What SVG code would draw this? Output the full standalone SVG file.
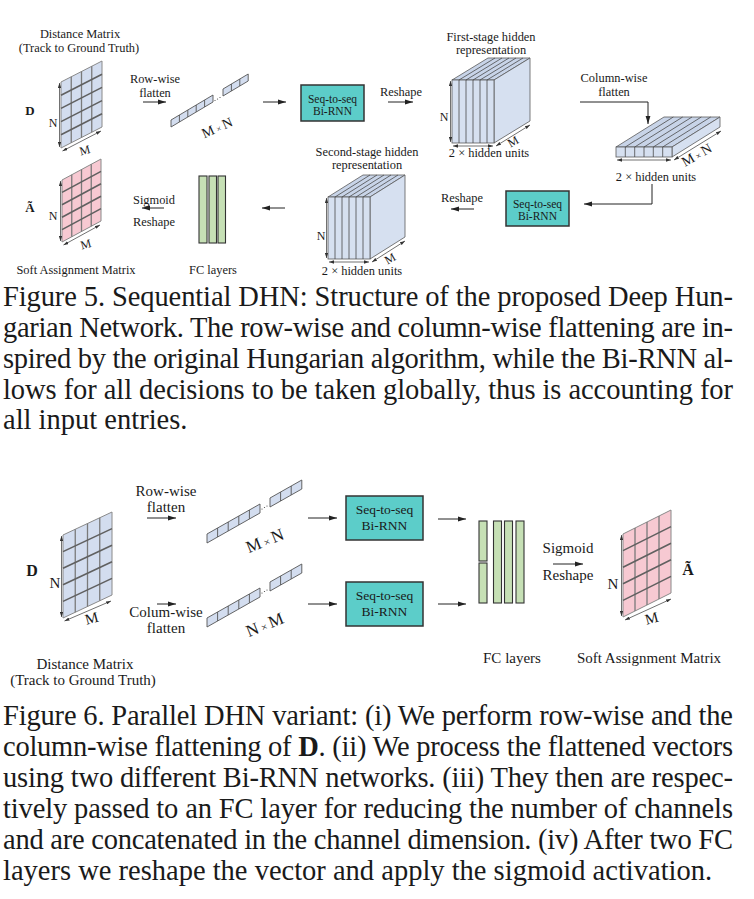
<svg xmlns="http://www.w3.org/2000/svg" xmlns:xlink="http://www.w3.org/1999/xlink" width="754" height="899" viewBox="0 0 754 899">
<style>
text{font-family:"Liberation Serif","Times New Roman",serif;fill:#1a1a1a}
.l5{font-size:12.4px}
.l6{font-size:15px}
.cap{font-size:28.5px}
.b5{font-size:13px;font-weight:bold}
.b6{font-size:16px;font-weight:bold}
.dim5{font-size:12px}
.dim6{font-size:15px}
.gb{stroke:#8a8a8a;stroke-width:1;vector-effect:non-scaling-stroke}
.gv{fill:none;stroke:#7a7a7a;stroke-width:1.3;vector-effect:non-scaling-stroke}
.gh{fill:none;stroke:#606060;stroke-width:1.6;vector-effect:non-scaling-stroke}
.st{stroke:#555;stroke-width:0.9;vector-effect:non-scaling-stroke}
.stl{fill:none;stroke:#555;stroke-width:0.9;vector-effect:non-scaling-stroke}
.box{fill:#5ccdc9;stroke:#333;stroke-width:1.5}
.bt5{font-size:11.5px;text-anchor:middle}
.bt6{font-size:13.5px;text-anchor:middle}
.fc{fill:#c6e0b5;stroke:#333;stroke-width:1.1}
.cube{fill:#d6e0f0;stroke:#5a5a5a;stroke-width:0.8}
.ctop{fill:#c8d4e8;stroke:#5a5a5a;stroke-width:0.8}
.cl{fill:none;stroke:#4a4a4a;stroke-width:0.8}
.arr{fill:none;stroke:#222;stroke-width:1;marker-end:url(#ah)}
.dim{fill:none;stroke:#333;stroke-width:0.7;marker-start:url(#dh);marker-end:url(#dh)}
.mid{text-anchor:middle}
</style>
<defs>
<marker id="ah" viewBox="0 0 8 6" refX="8" refY="3" markerWidth="8" markerHeight="6" markerUnits="userSpaceOnUse" orient="auto"><path d="M0,0.6 L8,3 L0,5.4 Z" fill="#222"/></marker>
<marker id="dh" viewBox="0 0 6 4" refX="6" refY="2" markerWidth="5" markerHeight="3.4" markerUnits="userSpaceOnUse" orient="auto-start-reverse"><path d="M0,0 L6,2 L0,4 Z" fill="#333"/></marker>
<g id="grid">
<rect x="0" y="0" width="4" height="5" class="gb"/>
<path d="M1,0V5M2,0V5M3,0V5" class="gv"/>
<path d="M0,1H4M0,2H4M0,3H4M0,4H4" class="gh"/>
</g>
<g id="s5"><rect x="0" y="0" width="5" height="1" class="st"/><path d="M1,0V1M2,0V1M3,0V1M4,0V1" class="stl"/></g>
<g id="s3"><rect x="0" y="0" width="3" height="1" class="st"/><path d="M1,0V1M2,0V1" class="stl"/></g>
</defs>

<!-- ================= Figure 5 ================= -->
<g id="f5-distance">
<text class="l5 mid" x="80" y="38">Distance Matrix</text>
<text class="l5 mid" x="79" y="52">(Track to Ground Truth)</text>
<text class="b5 mid" x="30" y="115">D</text>
<use href="#grid" fill="#d3ddef" transform="matrix(10.25,-5.25,0,13.2,61,82)"/>
<path class="dim" d="M59.5,83 V147"/>
<path class="dim" d="M62.5,151 L101,131"/>
<text class="dim5 mid" x="53" y="127">N</text>
<text class="dim5 mid" transform="translate(86,154) rotate(-15)">M</text>
</g>

<g id="f5-soft">
<text class="b5 mid" x="30" y="212">Ã</text>
<use href="#grid" fill="#f7c9d2" transform="matrix(9.75,-5.25,0,12.4,62,180)"/>
<path class="dim" d="M60.5,181 V241"/>
<path class="dim" d="M63.5,245 L100,225"/>
<text class="dim5 mid" x="53" y="220">N</text>
<text class="dim5 mid" transform="translate(87,248) rotate(-15)">M</text>
<text class="l5 mid" x="76" y="274">Soft Assignment Matrix</text>
</g>

<g id="f5-rowflat">
<text class="l5 mid" x="155" y="83">Row-wise</text>
<text class="l5 mid" x="155" y="97">flatten</text>
<use href="#s5" fill="#d3ddef" transform="matrix(8.4,-5,0,-7,171,127)"/>
<use href="#s3" fill="#d3ddef" transform="matrix(8.4,-5,0,-7,223,96)"/>
<circle cx="215" cy="100.5" r="0.6" fill="#444"/><circle cx="217.5" cy="99" r="0.6" fill="#444"/><circle cx="220" cy="97.5" r="0.6" fill="#444"/>
<text font-size="14" class="mid" transform="translate(219,132) rotate(-24)">M<tspan font-size="9"> × </tspan>N</text>
</g>

<g id="f5-rnn1">
<rect class="box" x="301" y="85" width="63" height="36"/>
<text class="bt5" x="332.5" y="103">Seq-to-seq</text>
<text class="bt5" x="332.5" y="115">Bi-RNN</text>
</g>

<g id="f5-reshape1">
<text class="l5 mid" x="401" y="96">Reshape</text>
</g>

<g id="f5-hidden1">
<text class="l5 mid" x="491" y="41">First-stage hidden</text>
<text class="l5 mid" x="491" y="54">representation</text>
<polygon class="ctop" points="452,80 494,80 530,58 488,58"/>
<polygon class="cube" points="494,80 530,58 530,121 494,143"/>
<rect class="cube" x="452" y="80" width="42" height="63"/>
<path class="cl" d="M459,80V143M466,80V143M473,80V143M480,80V143M487,80V143"/>
<path class="cl" d="M459,80L495,58M466,80L502,58M473,80L509,58M480,80L516,58M487,80L523,58"/>
<path class="dim" d="M450.5,81 V142"/>
<path class="dim" d="M453,146 H493"/>
<path class="dim" d="M496,146 L530,125"/>
<text class="dim5 mid" x="444" y="121">N</text>
<text class="dim5 mid" transform="translate(515,145) rotate(-30)">M</text>
<text class="l5 mid" x="489" y="157">2 × hidden units</text>
</g>

<g id="f5-colflat">
<text class="l5 mid" x="614" y="82">Column-wise</text>
<text class="l5 mid" x="614" y="96">flatten</text>
<polygon class="ctop" points="616,147 672,147 720,117 664,117"/>
<polygon class="cube" points="672,147 720,117 720,127 672,157"/>
<rect class="cube" x="616" y="147" width="56" height="10"/>
<path class="cl" d="M625.3,147V157M634.7,147V157M644,147V157M653.3,147V157M662.7,147V157"/>
<path class="cl" d="M625.3,147L673.3,117M634.7,147L682.7,117M644,147L692,117M653.3,147L701.3,117M662.7,147L710.7,117"/>
<path class="dim" d="M617,160 H671"/>
<path class="dim" d="M674,160 L721,131"/>
<text font-size="14" class="mid" transform="translate(699,159) rotate(-30)">M<tspan font-size="9"> × </tspan>N</text>
<text class="l5 mid" x="656" y="181">2 × hidden units</text>
</g>

<g id="f5-rnn2">
<rect class="box" x="506" y="191" width="63" height="35"/>
<text class="bt5" x="537.5" y="208">Seq-to-seq</text>
<text class="bt5" x="537.5" y="220">Bi-RNN</text>
</g>

<g id="f5-reshape2">
<text class="l5 mid" x="462" y="202">Reshape</text>
</g>

<g id="f5-hidden2">
<text class="l5 mid" x="367" y="156">Second-stage hidden</text>
<text class="l5 mid" x="367" y="169">representation</text>
<polygon class="ctop" points="328,197 370,197 405,175 363,175"/>
<polygon class="cube" points="370,197 405,175 405,237 370,259"/>
<rect class="cube" x="328" y="197" width="42" height="62"/>
<path class="cl" d="M335,197V259M342,197V259M349,197V259M356,197V259M363,197V259"/>
<path class="cl" d="M335,197L370,175M342,197L377,175M349,197L384,175M356,197L391,175M363,197L398,175"/>
<path class="dim" d="M326.5,198 V258"/>
<path class="dim" d="M329,262 H369"/>
<path class="dim" d="M372,262 L405,241"/>
<text class="dim5 mid" x="321" y="240">N</text>
<text class="dim5 mid" transform="translate(392,262) rotate(-30)">M</text>
<text class="l5 mid" x="362" y="275">2 × hidden units</text>
</g>

<g id="f5-fc">
<rect class="fc" x="199" y="176" width="8" height="67"/>
<rect class="fc" x="209" y="176" width="7.5" height="67"/>
<rect class="fc" x="218" y="176" width="7.5" height="67"/>
<text class="l5 mid" x="213" y="274">FC layers</text>
</g>

<g id="f5-sigmoid">
<text class="l5 mid" x="154" y="204">Sigmoid</text>
<text class="l5 mid" x="154" y="226">Reshape</text>
</g>

<g id="f5-connectors">
<path class="arr" d="M143,102 H166"/>
<path class="arr" d="M263,102 H286"/>
<path class="arr" d="M388,102 H413"/>
<path class="arr" d="M580,102 H648 V124"/>
<path class="arr" d="M652,184 V204 H584"/>
<path class="arr" d="M474,209 H451"/>
<path class="arr" d="M285,208 H262"/>
<path class="arr" d="M164,208 H142"/>
</g>

<g id="f5-caption">
<text class="cap" x="3" y="306" textLength="730" lengthAdjust="spacing">Figure 5. Sequential DHN: Structure of the proposed Deep Hun-</text>
<text class="cap" x="3" y="337" textLength="730" lengthAdjust="spacing">garian Network. The row-wise and column-wise flattening are in-</text>
<text class="cap" x="3" y="368" textLength="730" lengthAdjust="spacing">spired by the original Hungarian algorithm, while the Bi-RNN al-</text>
<text class="cap" x="3" y="399" textLength="730" lengthAdjust="spacing">lows for all decisions to be taken globally, thus is accounting for</text>
<text class="cap" x="3" y="429">all input entries.</text>
</g>

<!-- ================= Figure 6 ================= -->
<g id="f6-distance">
<text class="b6 mid" x="32" y="576">D</text>
<use href="#grid" fill="#d3ddef" transform="matrix(12.25,-5.75,0,16.6,63,535)"/>
<path class="dim" d="M61.5,536 V617"/>
<path class="dim" d="M64.5,621 L111,601"/>
<text class="dim6 mid" x="55" y="588">N</text>
<text class="dim6 mid" transform="translate(93,623) rotate(-15)">M</text>
<text class="l6 mid" x="85" y="669">Distance Matrix</text>
<text class="l6 mid" x="83" y="685">(Track to Ground Truth)</text>
</g>

<g id="f6-rowflat">
<text class="l6 mid" x="166" y="496">Row-wise</text>
<text class="l6 mid" x="166" y="512">flatten</text>
<use href="#s5" fill="#d3ddef" transform="matrix(10.6,-6,0,-9,207,543)"/>
<use href="#s3" fill="#d3ddef" transform="matrix(10.6,-6,0,-9,270,507)"/>
<circle cx="262" cy="509" r="0.6" fill="#444"/><circle cx="264.5" cy="507.5" r="0.6" fill="#444"/><circle cx="267" cy="506" r="0.6" fill="#444"/>
<text font-size="17" class="mid" transform="translate(267,546) rotate(-22)">M<tspan font-size="11"> × </tspan>N</text>
</g>

<g id="f6-colflat">
<text class="l6 mid" x="166" y="617">Colum-wise</text>
<text class="l6 mid" x="166" y="633">flatten</text>
<use href="#s5" fill="#d3ddef" transform="matrix(10.6,-6,0,-9,207,627)"/>
<use href="#s3" fill="#d3ddef" transform="matrix(10.6,-6,0,-9,270,591)"/>
<circle cx="262" cy="593" r="0.6" fill="#444"/><circle cx="264.5" cy="591.5" r="0.6" fill="#444"/><circle cx="267" cy="590" r="0.6" fill="#444"/>
<text font-size="17" class="mid" transform="translate(267,630) rotate(-22)">N<tspan font-size="11"> × </tspan>M</text>
</g>

<g id="f6-rnn1">
<rect class="box" x="346" y="496" width="77" height="44"/>
<text class="bt6" x="384.5" y="514">Seq-to-seq</text>
<text class="bt6" x="384.5" y="530">Bi-RNN</text>
</g>

<g id="f6-rnn2">
<rect class="box" x="346" y="582" width="77" height="44"/>
<text class="bt6" x="384.5" y="600">Seq-to-seq</text>
<text class="bt6" x="384.5" y="616">Bi-RNN</text>
</g>

<g id="f6-fc">
<rect class="fc" x="479" y="521" width="8" height="40"/>
<rect class="fc" x="479" y="563" width="8" height="40"/>
<rect class="fc" x="493.5" y="521" width="8" height="82"/>
<rect class="fc" x="504.5" y="521" width="8" height="82"/>
<rect class="fc" x="516" y="521" width="8" height="82"/>
<text class="l6 mid" x="512" y="663">FC layers</text>
</g>

<g id="f6-sigmoid">
<text class="l6 mid" x="568" y="553">Sigmoid</text>
<text class="l6 mid" x="568" y="580">Reshape</text>
</g>

<g id="f6-soft">
<use href="#grid" fill="#f7c9d2" transform="matrix(12,-6,0,16.6,623,534)"/>
<path class="dim" d="M621.5,535 V616"/>
<path class="dim" d="M625,620 L671,599"/>
<text class="dim6 mid" x="613" y="589">N</text>
<text class="dim6 mid" transform="translate(653,623) rotate(-15)">M</text>
<text class="b6 mid" x="688" y="575">Ã</text>
<text class="l6 mid" x="649" y="663">Soft Assignment Matrix</text>
</g>

<g id="f6-connectors">
<path class="arr" d="M147,518 H176"/>
<path class="arr" d="M157,604 H176"/>
<path class="arr" d="M308,518 H337"/>
<path class="arr" d="M308,604 H337"/>
<path class="arr" d="M438,519 H466"/>
<path class="arr" d="M438,604 H466"/>
<path class="arr" d="M553,564 H583"/>
</g>

<g id="f6-caption">
<text class="cap" x="3" y="725" textLength="730" lengthAdjust="spacing">Figure 6. Parallel DHN variant: (i) We perform row-wise and the</text>
<text class="cap" x="3" y="756" textLength="730" lengthAdjust="spacing">column-wise flattening of <tspan font-weight="bold">D</tspan>. (ii) We process the flattened vectors</text>
<text class="cap" x="3" y="787" textLength="730" lengthAdjust="spacing">using two different Bi-RNN networks. (iii) They then are respec-</text>
<text class="cap" x="3" y="818" textLength="730" lengthAdjust="spacing">tively passed to an FC layer for reducing the number of channels</text>
<text class="cap" x="3" y="849" textLength="730" lengthAdjust="spacing">and are concatenated in the channel dimension. (iv) After two FC</text>
<text class="cap" x="3" y="880">layers we reshape the vector and apply the sigmoid activation.</text>
</g>
</svg>
